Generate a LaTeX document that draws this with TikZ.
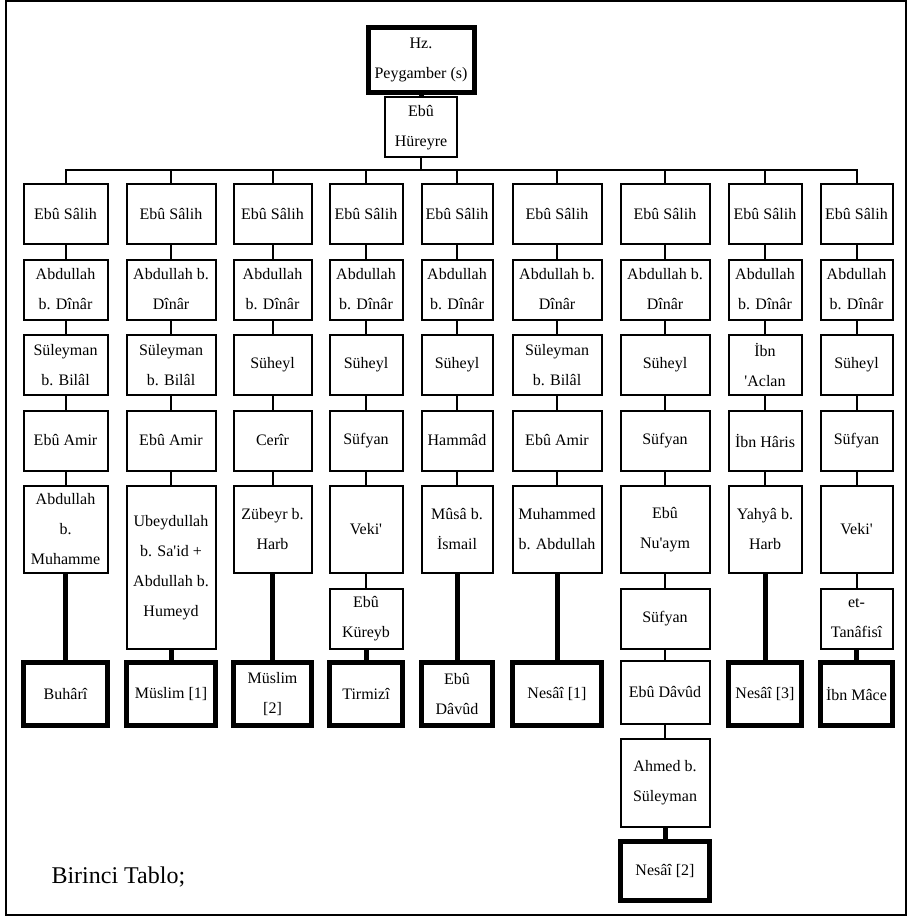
\documentclass[tikz,border=0pt]{standalone}
\usepackage{fontspec}
\setmainfont{Liberation Serif}
\usepackage{tikz}
\usetikzlibrary{positioning}
\definecolor{InkBlack}{HTML}{000000}
\definecolor{PaperWhite}{HTML}{FFFFFF}
\tikzset{
    ravi/.style={draw=InkBlack, fill=PaperWhite, line width=2pt, outer sep=0pt,
        inner sep=1pt, minimum height=60pt, align=center,
        font=\fontsize{16}{30}\selectfont},
    kitap/.style={ravi, line width=5pt, minimum height=63pt},
    bag/.style={draw=InkBlack, line width=2pt},
    kalin/.style={draw=InkBlack, line width=5pt},
    col1/.style={minimum width=84pt},
    col2/.style={minimum width=89pt},
    col3/.style={minimum width=78pt},
    col4/.style={minimum width=73pt},
    col5/.style={minimum width=71pt},
    col6/.style={minimum width=89pt},
    col7/.style={minimum width=89pt},
    col8/.style={minimum width=73pt},
    col9/.style={minimum width=72pt},
}
\newcommand{\tek}{\textquotesingle}

\begin{document}
\begin{tikzpicture}[x=1pt, y=-1pt, node distance=15.5pt]
        \useasboundingbox (0,0) rectangle (911,917);
        \draw[bag] (6,1) rectangle (906,915);

        \node[kitap, minimum width=106pt, minimum height=65pt] (nebi) at (421,60) {Hz.\\Peygamber (s)};
        \node[ravi, minimum width=72pt, below=5pt of nebi] (hureyre) {Eb\^u\\H\"ureyre};
        \coordinate (bar) at (0,170);

        % birinci sutun
        \node[ravi, col1] (s1) at (65.5,214) {Eb\^u S\^alih};
        \node[ravi, col1, below=of s1] (d1) {Abdullah\\b. D\^in\^ar};
        \node[ravi, col1, below=of d1] (t1) {S\"uleyman\\b. Bil\^al};
        \node[ravi, col1, below=of t1] (u1) {Eb\^u Amir};
        \node[ravi, col1, below=of u1, minimum height=87pt] (v1) {Abdullah\\b.\\Muhamme};
        \node[kitap, col1, below=89.5pt of v1] (k1) {Buh\^ar\^i};

        % ikinci sutun
        \node[ravi, col2] (s2) at (171,214) {Eb\^u S\^alih};
        \node[ravi, col2, below=of s2] (d2) {Abdullah b.\\D\^in\^ar};
        \node[ravi, col2, below=of d2] (t2) {S\"uleyman\\b. Bil\^al};
        \node[ravi, col2, below=of t2] (u2) {Eb\^u Amir};
        \node[ravi, col2, below=of u2, minimum height=163pt] (v2) {Ubeydullah\\b. Sa\tek id +\\Abdullah b.\\Humeyd};
        \node[kitap, col2, below=13.5pt of v2] (k2) {M\"uslim [1]};

        % ucuncu sutun
        \node[ravi, col3] (s3) at (272.5,214) {Eb\^u S\^alih};
        \node[ravi, col3, below=of s3] (d3) {Abdullah\\b. D\^in\^ar};
        \node[ravi, col3, below=of d3] (t3) {S\"uheyl};
        \node[ravi, col3, below=of t3] (u3) {Cer\^ir};
        \node[ravi, col3, below=of u3, minimum height=87pt] (v3) {Z\"ubeyr b.\\Harb};
        \node[kitap, col3, below=89.5pt of v3] (k3) {M\"uslim\\{[2]}};

        % dorduncu sutun
        \node[ravi, col4] (s4) at (366,214) {Eb\^u S\^alih};
        \node[ravi, col4, below=of s4] (d4) {Abdullah\\b. D\^in\^ar};
        \node[ravi, col4, below=of d4] (t4) {S\"uheyl};
        \node[ravi, col4, below=of t4] (u4) {S\"ufyan};
        \node[ravi, col4, below=of u4, minimum height=87pt] (v4) {Veki\tek};
        \node[ravi, col4, below=of v4] (w4) {Eb\^u\\K\"ureyb};
        \node[kitap, col4, below=14pt of w4] (k4) {Tirmiz\^i};

        % besinci sutun
        \node[ravi, col5] (s5) at (457,214) {Eb\^u S\^alih};
        \node[ravi, col5, below=of s5] (d5) {Abdullah\\b. D\^in\^ar};
        \node[ravi, col5, below=of d5] (t5) {S\"uheyl};
        \node[ravi, col5, below=of t5] (u5) {Hamm\^ad};
        \node[ravi, col5, below=of u5, minimum height=87pt] (v5) {M\^us\^a b.\\İsmail};
        \node[kitap, col5, below=89.5pt of v5] (k5) {Eb\^u\\D\^av\^ud};

        % altinci sutun
        \node[ravi, col6] (s6) at (557,214) {Eb\^u S\^alih};
        \node[ravi, col6, below=of s6] (d6) {Abdullah b.\\D\^in\^ar};
        \node[ravi, col6, below=of d6] (t6) {S\"uleyman\\b. Bil\^al};
        \node[ravi, col6, below=of t6] (u6) {Eb\^u Amir};
        \node[ravi, col6, below=of u6, minimum height=87pt] (v6) {Muhammed\\b. Abdullah};
        \node[kitap, col6, below=89.5pt of v6] (k6) {Nes\^a\^i [1]};

        % yedinci sutun
        \node[ravi, col7] (s7) at (665,214) {Eb\^u S\^alih};
        \node[ravi, col7, below=of s7] (d7) {Abdullah b.\\D\^in\^ar};
        \node[ravi, col7, below=of d7] (t7) {S\"uheyl};
        \node[ravi, col7, below=of t7] (u7) {S\"ufyan};
        \node[ravi, col7, below=of u7, minimum height=87pt] (v7) {Eb\^u\\Nu\tek aym};
        \node[ravi, col7, below=of v7] (w7) {S\"ufyan};
        \node[ravi, col7, below=12.5pt of w7, minimum height=63pt] (k7) {Eb\^u D\^av\^ud};
        \node[ravi, col7, below=15pt of k7, minimum height=88pt] (x7) {Ahmed b.\\S\"uleyman};
        \node[kitap, col7, below=14.5pt of x7, minimum height=59pt] (n7) {Nes\^a\^i [2]};

        % sekizinci sutun
        \node[ravi, col8] (s8) at (765,214) {Eb\^u S\^alih};
        \node[ravi, col8, below=of s8] (d8) {Abdullah\\b. D\^in\^ar};
        \node[ravi, col8, below=of d8] (t8) {İbn\\\tek Aclan};
        \node[ravi, col8, below=of t8] (u8) {İbn H\^aris};
        \node[ravi, col8, below=of u8, minimum height=87pt] (v8) {Yahy\^a b.\\Harb};
        \node[kitap, col8, below=89.5pt of v8] (k8) {Nes\^a\^i [3]};

        % dokuzuncu sutun
        \node[ravi, col9] (s9) at (856.5,214) {Eb\^u S\^alih};
        \node[ravi, col9, below=of s9] (d9) {Abdullah\\b. D\^in\^ar};
        \node[ravi, col9, below=of d9] (t9) {S\"uheyl};
        \node[ravi, col9, below=of t9] (u9) {S\"ufyan};
        \node[ravi, col9, below=of u9, minimum height=87pt] (v9) {Veki\tek};
        \node[ravi, col9, below=of v9] (w9) {et-\\Tan\^afis\^i};
        \node[kitap, col9, below=14pt of w9] (k9) {İbn M\^ace};

        \node[anchor=base west, font=\fontsize{24}{28}\selectfont] (baslik) at (48,883) {Birinci Tablo;};

        % baglantilar
        \draw[kalin] (nebi) -- (hureyre);
        \draw[bag] (hureyre) -- (hureyre |- bar);
        \draw[bag] (s1) |- (bar -| s9) -- (s9);
        \draw[bag] (s2) -- (s2 |- bar) (s3) -- (s3 |- bar) (s4) -- (s4 |- bar)
            (s5) -- (s5 |- bar) (s6) -- (s6 |- bar) (s7) -- (s7 |- bar) (s8) -- (s8 |- bar);

        \draw[bag] (s1) -- (d1) (d1) -- (t1) (t1) -- (u1) (u1) -- (v1);
        \draw[bag] (s2) -- (d2) (d2) -- (t2) (t2) -- (u2) (u2) -- (v2);
        \draw[bag] (s3) -- (d3) (d3) -- (t3) (t3) -- (u3) (u3) -- (v3);
        \draw[bag] (s4) -- (d4) (d4) -- (t4) (t4) -- (u4) (u4) -- (v4) (v4) -- (w4);
        \draw[bag] (s5) -- (d5) (d5) -- (t5) (t5) -- (u5) (u5) -- (v5);
        \draw[bag] (s6) -- (d6) (d6) -- (t6) (t6) -- (u6) (u6) -- (v6);
        \draw[bag] (s7) -- (d7) (d7) -- (t7) (t7) -- (u7) (u7) -- (v7) (v7) -- (w7) (w7) -- (k7) (k7) -- (x7);
        \draw[bag] (s8) -- (d8) (d8) -- (t8) (t8) -- (u8) (u8) -- (v8);
        \draw[bag] (s9) -- (d9) (d9) -- (t9) (t9) -- (u9) (u9) -- (v9) (v9) -- (w9);

        \draw[kalin] (v1) -- (k1) (v2) -- (k2) (v3) -- (k3) (w4) -- (k4) (v5) -- (k5)
            (v6) -- (k6) (x7) -- (n7) (v8) -- (k8) (w9) -- (k9);
    \end{tikzpicture}
\end{document}
